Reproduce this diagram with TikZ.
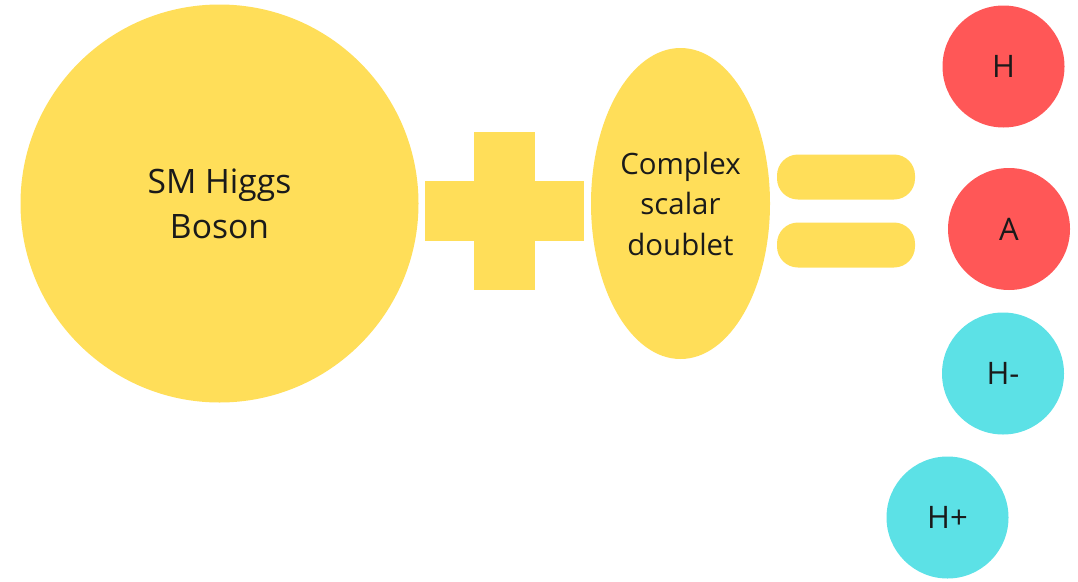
\documentclass[tikz,border=0pt]{standalone}
\usepackage{fontspec}
\setmainfont{Open Sans}
\usetikzlibrary{shapes.geometric}
\definecolor{sunyellow}{HTML}{FFDE59}
\definecolor{coralred}{HTML}{FF5757}
\definecolor{skycyan}{HTML}{5CE1E6}
\definecolor{inkdark}{HTML}{1A1A1A}
\tikzset{
  blob/.style={circle, inner sep=0pt, text=inkdark, align=center},
  smallball/.style={blob, minimum size=122pt, font=\fontsize{31}{38}\selectfont},
  yellowbar/.style={rectangle, fill=sunyellow, inner sep=0pt},
  eqbar/.style={yellowbar, rounded corners=21pt, minimum width=138pt, minimum height=45pt},
}
\begin{document}
\begin{tikzpicture}[x=1pt,y=-1pt]
\useasboundingbox (0,0) rectangle (1078,581);
% big circle
\node[blob, fill=sunyellow, minimum size=398pt, font=\fontsize{33.6}{45}\selectfont] (sm) at (219.5,203.5) {SM Higgs\\Boson};
% plus sign
\node[yellowbar, minimum width=159pt, minimum height=60pt] (plush) at (504.5,211) {};
\node[yellowbar, minimum width=61pt, minimum height=158pt] (plusv) at (504.5,211) {};
% ellipse
\node[ellipse, fill=sunyellow, inner sep=0pt, minimum width=179pt, minimum height=311pt, text=inkdark, align=center, font=\fontsize{29.4}{40.5}\selectfont] (csd) at (680.5,203.5) {Complex\\scalar\\doublet};
% equal sign
\node[eqbar] (eqtop) at (846,177) {};
\node[eqbar] (eqbot) at (846,245) {};
% result particles
\node[smallball, fill=coralred] (h) at (1003.5,66.5) {H};
\node[smallball, fill=coralred] (a) at (1009,229) {A};
\node[smallball, fill=skycyan] (hm) at (1003,373.5) {H-};
\node[smallball, fill=skycyan] (hp) at (947.5,517.5) {H+};
\end{tikzpicture}
\end{document}
